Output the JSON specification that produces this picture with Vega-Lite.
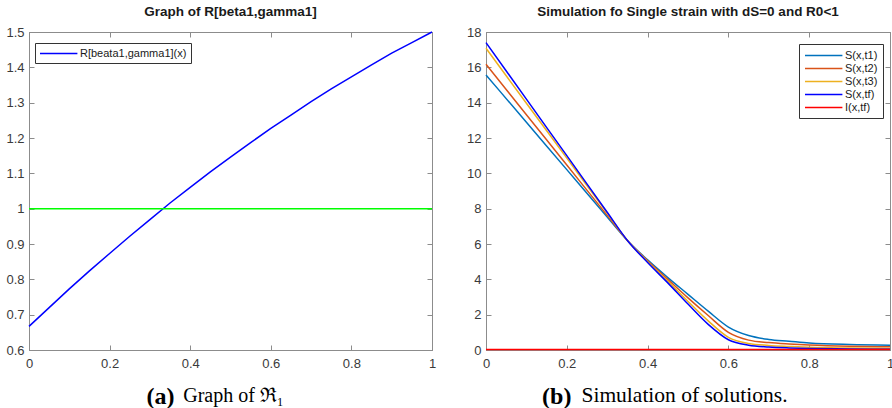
{
  "$schema": "https://vega.github.io/schema/vega-lite/v6.json",
  "background": "white",
  "padding": {"left": 5, "top": 4, "right": 0, "bottom": 0},
  "spacing": 29,
  "datasets": {
    "R": [
      {"x": 0, "y": 0.667, "s": "R[beata1,gamma1](x)"},
      {"x": 0.05, "y": 0.72, "s": "R[beata1,gamma1](x)"},
      {"x": 0.1, "y": 0.773, "s": "R[beata1,gamma1](x)"},
      {"x": 0.15, "y": 0.824, "s": "R[beata1,gamma1](x)"},
      {"x": 0.2, "y": 0.873, "s": "R[beata1,gamma1](x)"},
      {"x": 0.25, "y": 0.922, "s": "R[beata1,gamma1](x)"},
      {"x": 0.3, "y": 0.969, "s": "R[beata1,gamma1](x)"},
      {"x": 0.35, "y": 1.016, "s": "R[beata1,gamma1](x)"},
      {"x": 0.4, "y": 1.06, "s": "R[beata1,gamma1](x)"},
      {"x": 0.45, "y": 1.104, "s": "R[beata1,gamma1](x)"},
      {"x": 0.5, "y": 1.146, "s": "R[beata1,gamma1](x)"},
      {"x": 0.55, "y": 1.187, "s": "R[beata1,gamma1](x)"},
      {"x": 0.6, "y": 1.227, "s": "R[beata1,gamma1](x)"},
      {"x": 0.65, "y": 1.265, "s": "R[beata1,gamma1](x)"},
      {"x": 0.7, "y": 1.303, "s": "R[beata1,gamma1](x)"},
      {"x": 0.75, "y": 1.339, "s": "R[beata1,gamma1](x)"},
      {"x": 0.8, "y": 1.373, "s": "R[beata1,gamma1](x)"},
      {"x": 0.85, "y": 1.407, "s": "R[beata1,gamma1](x)"},
      {"x": 0.9, "y": 1.44, "s": "R[beata1,gamma1](x)"},
      {"x": 0.95, "y": 1.47, "s": "R[beata1,gamma1](x)"},
      {"x": 1, "y": 1.5, "s": "R[beata1,gamma1](x)"}
    ],
    "G": [
      {"x": 0, "y": 1},
      {"x": 1, "y": 1}
    ],
    "S": [
      {"x": 0, "v": 15.57, "s": "S(x,t1)"},
      {"x": 0.1, "v": 12.89, "s": "S(x,t1)"},
      {"x": 0.2, "v": 10.21, "s": "S(x,t1)"},
      {"x": 0.3, "v": 7.53, "s": "S(x,t1)"},
      {"x": 0.35, "v": 6.2, "s": "S(x,t1)"},
      {"x": 0.4, "v": 5.1, "s": "S(x,t1)"},
      {"x": 0.45, "v": 4.1, "s": "S(x,t1)"},
      {"x": 0.5, "v": 3.15, "s": "S(x,t1)"},
      {"x": 0.55, "v": 2.2, "s": "S(x,t1)"},
      {"x": 0.6, "v": 1.3, "s": "S(x,t1)"},
      {"x": 0.65, "v": 0.82, "s": "S(x,t1)"},
      {"x": 0.7, "v": 0.6, "s": "S(x,t1)"},
      {"x": 0.75, "v": 0.5, "s": "S(x,t1)"},
      {"x": 0.8, "v": 0.4, "s": "S(x,t1)"},
      {"x": 0.9, "v": 0.31, "s": "S(x,t1)"},
      {"x": 1, "v": 0.27, "s": "S(x,t1)"},
      {"x": 0, "v": 16.17, "s": "S(x,t2)"},
      {"x": 0.1, "v": 13.32, "s": "S(x,t2)"},
      {"x": 0.2, "v": 10.47, "s": "S(x,t2)"},
      {"x": 0.3, "v": 7.62, "s": "S(x,t2)"},
      {"x": 0.35, "v": 6.2, "s": "S(x,t2)"},
      {"x": 0.4, "v": 5.05, "s": "S(x,t2)"},
      {"x": 0.45, "v": 4.0, "s": "S(x,t2)"},
      {"x": 0.5, "v": 2.95, "s": "S(x,t2)"},
      {"x": 0.55, "v": 1.95, "s": "S(x,t2)"},
      {"x": 0.6, "v": 1.0, "s": "S(x,t2)"},
      {"x": 0.65, "v": 0.56, "s": "S(x,t2)"},
      {"x": 0.7, "v": 0.42, "s": "S(x,t2)"},
      {"x": 0.75, "v": 0.34, "s": "S(x,t2)"},
      {"x": 0.8, "v": 0.28, "s": "S(x,t2)"},
      {"x": 0.9, "v": 0.21, "s": "S(x,t2)"},
      {"x": 1, "v": 0.18, "s": "S(x,t2)"},
      {"x": 0, "v": 17.08, "s": "S(x,t3)"},
      {"x": 0.1, "v": 13.97, "s": "S(x,t3)"},
      {"x": 0.2, "v": 10.86, "s": "S(x,t3)"},
      {"x": 0.3, "v": 7.75, "s": "S(x,t3)"},
      {"x": 0.35, "v": 6.2, "s": "S(x,t3)"},
      {"x": 0.4, "v": 5.0, "s": "S(x,t3)"},
      {"x": 0.45, "v": 3.9, "s": "S(x,t3)"},
      {"x": 0.5, "v": 2.75, "s": "S(x,t3)"},
      {"x": 0.55, "v": 1.65, "s": "S(x,t3)"},
      {"x": 0.6, "v": 0.72, "s": "S(x,t3)"},
      {"x": 0.65, "v": 0.37, "s": "S(x,t3)"},
      {"x": 0.7, "v": 0.26, "s": "S(x,t3)"},
      {"x": 0.75, "v": 0.2, "s": "S(x,t3)"},
      {"x": 0.8, "v": 0.15, "s": "S(x,t3)"},
      {"x": 0.9, "v": 0.11, "s": "S(x,t3)"},
      {"x": 1, "v": 0.09, "s": "S(x,t3)"},
      {"x": 0, "v": 17.4, "s": "S(x,tf)"},
      {"x": 0.1, "v": 14.2, "s": "S(x,tf)"},
      {"x": 0.2, "v": 11.0, "s": "S(x,tf)"},
      {"x": 0.3, "v": 7.8, "s": "S(x,tf)"},
      {"x": 0.35, "v": 6.2, "s": "S(x,tf)"},
      {"x": 0.4, "v": 4.95, "s": "S(x,tf)"},
      {"x": 0.45, "v": 3.8, "s": "S(x,tf)"},
      {"x": 0.5, "v": 2.6, "s": "S(x,tf)"},
      {"x": 0.55, "v": 1.45, "s": "S(x,tf)"},
      {"x": 0.6, "v": 0.58, "s": "S(x,tf)"},
      {"x": 0.65, "v": 0.27, "s": "S(x,tf)"},
      {"x": 0.7, "v": 0.17, "s": "S(x,tf)"},
      {"x": 0.75, "v": 0.12, "s": "S(x,tf)"},
      {"x": 0.8, "v": 0.09, "s": "S(x,tf)"},
      {"x": 0.9, "v": 0.06, "s": "S(x,tf)"},
      {"x": 1, "v": 0.04, "s": "S(x,tf)"},
      {"x": 0, "v": 0.03, "s": "I(x,tf)"},
      {"x": 0.5, "v": 0.03, "s": "I(x,tf)"},
      {"x": 1, "v": 0.03, "s": "I(x,tf)"}
    ]
  },
  "resolve": {"scale": {"color": "independent"}, "legend": {"color": "independent"}},
  "hconcat": [
    {
      "title": {"text": "(a)", "orient": "bottom", "anchor": "start", "font": "Liberation Serif", "fontSize": 24, "fontWeight": "bold", "color": "black", "dx": 141, "offset": -2, "baseline": "alphabetic"},
      "vconcat": [
        {
          "width": 403,
          "height": 318,
          "title": {"text": "Graph of R[beta1,gamma1]", "offset": 8},
          "layer": [
            {
              "data": {"name": "R"},
              "mark": {"type": "line", "strokeWidth": 1.5},
              "encoding": {
                "x": {"field": "x", "type": "quantitative", "scale": {"domain": [0, 1], "nice": false},
                  "axis": {"values": [0, 0.2, 0.4, 0.6, 0.8, 1], "format": "~g", "title": "Graph of ℜ₁", "titleFont": "Liberation Serif", "titleFontSize": 20, "titleFontWeight": "normal", "titleColor": "black", "titleX": 204, "titleY": 51, "titleAlign": "center", "titleBaseline": "alphabetic", "labelPadding": 12}},
                "y": {"field": "y", "type": "quantitative", "scale": {"domain": [0.6, 1.5], "nice": false, "zero": false},
                  "axis": {"values": [0.6, 0.7, 0.8, 0.9, 1, 1.1, 1.2, 1.3, 1.4, 1.5], "format": "~g", "title": null}},
                "color": {"field": "s", "type": "nominal", "scale": {"domain": ["R[beata1,gamma1](x)"], "range": ["#0000ff"]},
                  "legend": {"orient": "none", "legendX": 6, "legendY": 11, "title": null, "padding": 4}}
              }
            },
            {
              "data": {"name": "G"},
              "mark": {"type": "line", "color": "#00ff00", "strokeWidth": 1.5},
              "encoding": {
                "x": {"field": "x", "type": "quantitative", "axis": null},
                "y": {"field": "y", "type": "quantitative", "axis": null}
              }
            },
            {
              "data": {"name": "G"},
              "mark": {"type": "line", "opacity": 0},
              "encoding": {
                "x": {"field": "x", "type": "quantitative", "axis": {"orient": "top", "labels": false, "title": null, "values": [0, 0.2, 0.4, 0.6, 0.8, 1]}},
                "y": {"field": "y", "type": "quantitative", "axis": {"orient": "right", "labels": false, "title": null, "values": [0.6, 0.7, 0.8, 0.9, 1, 1.1, 1.2, 1.3, 1.4, 1.5]}}
              }
            }
          ],
          "resolve": {"axis": {"x": "independent", "y": "independent"}}
        }
      ]
    },
    {
      "title": {"text": "(b)", "orient": "bottom", "anchor": "start", "font": "Liberation Serif", "fontSize": 24, "fontWeight": "bold", "color": "black", "dx": 76, "offset": -2, "baseline": "alphabetic"},
      "vconcat": [
        {
          "width": 404,
          "height": 318,
          "title": {"text": "Simulation fo Single strain with dS=0 and R0<1", "offset": 8},
          "layer": [
            {
              "data": {"name": "S"},
              "mark": {"type": "line", "strokeWidth": 1.5, "interpolate": "monotone"},
              "encoding": {
                "x": {"field": "x", "type": "quantitative", "scale": {"domain": [0, 1], "nice": false},
                  "axis": {"values": [0, 0.2, 0.4, 0.6, 0.8, 1], "format": "~g", "title": "Simulation of solutions.", "titleFont": "Liberation Serif", "titleFontSize": 21.5, "titleFontWeight": "normal", "titleColor": "black", "titleX": 198, "titleY": 51, "titleAlign": "center", "titleBaseline": "alphabetic", "labelPadding": 12}},
                "y": {"field": "v", "type": "quantitative", "scale": {"domain": [0, 18], "nice": false},
                  "axis": {"values": [0, 2, 4, 6, 8, 10, 12, 14, 16, 18], "format": "~g", "title": null}},
                "color": {"field": "s", "type": "nominal", "sort": null,
                  "scale": {"domain": ["S(x,t1)", "S(x,t2)", "S(x,t3)", "S(x,tf)", "I(x,tf)"], "range": ["#0072bd", "#d95319", "#edb120", "#0000ff", "#ff0000"]},
                  "legend": {"orient": "none", "legendX": 313, "legendY": 12, "title": null}}
              }
            },
            {
              "data": {"name": "G"},
              "mark": {"type": "line", "opacity": 0},
              "encoding": {
                "x": {"field": "x", "type": "quantitative", "axis": {"orient": "top", "labels": false, "title": null, "values": [0, 0.2, 0.4, 0.6, 0.8, 1]}},
                "y": {"field": "y", "type": "quantitative", "axis": {"orient": "right", "labels": false, "title": null, "values": [0, 2, 4, 6, 8, 10, 12, 14, 16, 18]}}
              }
            }
          ],
          "resolve": {"axis": {"x": "independent", "y": "independent"}}
        }
      ]
    }
  ],
  "config": {
    "view": {"stroke": "#8c8c8c", "strokeWidth": 1},
    "axis": {"grid": false, "labelFont": "Liberation Sans", "labelFontSize": 13, "labelColor": "#3a3a3a", "domainColor": "#8c8c8c", "tickColor": "#8c8c8c", "tickSize": -5, "labelFlush": false, "labelOverlap": false, "labelPadding": 10},
    "title": {"font": "Liberation Sans", "fontSize": 13.5, "fontWeight": "bold", "color": "#1a1a1a"},
    "legend": {"strokeColor": "#333333", "fillColor": "white", "padding": 5, "symbolType": "M-1,0H5.8", "symbolSize": 121, "symbolStrokeWidth": 1.5, "labelFont": "Liberation Sans", "labelFontSize": 11, "labelColor": "#1a1a1a", "labelOffset": 28, "rowPadding": 1, "cornerRadius": 0}
  }
}
